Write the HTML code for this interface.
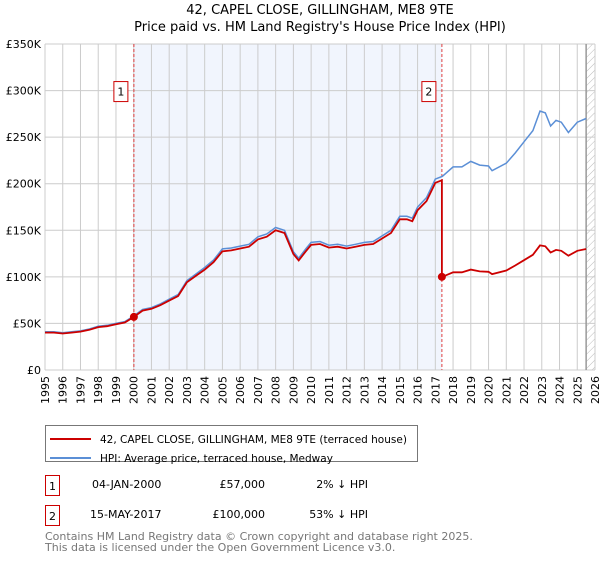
<!DOCTYPE html>
<html><head><meta charset="utf-8"><style>
body{margin:0;background:#fff;font-family:"DejaVu Sans","Liberation Sans",sans-serif;}
svg text{font-family:"DejaVu Sans","Liberation Sans",sans-serif;}
</style></head><body>
<svg id="c" width="600" height="560" xmlns="http://www.w3.org/2000/svg">
<text x="320" y="14" font-size="13" text-anchor="middle">42, CAPEL CLOSE, GILLINGHAM, ME8 9TE</text>
<text x="320" y="31" font-size="13" text-anchor="middle">Price paid vs. HM Land Registry's House Price Index (HPI)</text>
<g id="grid"></g><g id="marks"></g>
<g>
<rect x="45.5" y="425.5" width="372" height="36" fill="#fff" stroke="#777"/>
<line x1="50" y1="439" x2="91" y2="439" stroke="#cc0000" stroke-width="2"/>
<text x="100" y="443" font-size="10.5">42, CAPEL CLOSE, GILLINGHAM, ME8 9TE (terraced house)</text>
<line x1="50" y1="458" x2="91" y2="458" stroke="#5b8fd6" stroke-width="2"/>
<text x="100" y="462" font-size="10.5">HPI: Average price, terraced house, Medway</text>
</g>
<g font-size="11">
<rect x="45.5" y="475.5" width="14" height="20" fill="none" stroke="#cc0000"/><text x="52.5" y="490" text-anchor="middle">1</text>
<text x="92" y="488">04-JAN-2000</text><text x="265" y="488" text-anchor="end">£57,000</text><text x="368" y="488" text-anchor="end">2% ↓ HPI</text>
<rect x="45.5" y="505.5" width="14" height="20" fill="none" stroke="#cc0000"/><text x="52.5" y="520" text-anchor="middle">2</text>
<text x="90" y="518">15-MAY-2017</text><text x="265" y="518" text-anchor="end">£100,000</text><text x="368" y="518" text-anchor="end">53% ↓ HPI</text>
</g>
<text x="45" y="540" font-size="11" fill="#777">Contains HM Land Registry data © Crown copyright and database right 2025.</text>
<text x="45" y="551" font-size="11" fill="#777">This data is licensed under the Open Government Licence v3.0.</text>
</svg>
<script>
const hpiYears=[1995,1995.5,1996,1996.5,1997,1997.5,1998,1998.5,1999,1999.5,2000,2000.5,2001,2001.5,2002,2002.5,2003,2003.5,2004,2004.5,2005,2005.5,2006,2006.5,2007,2007.5,2008,2008.5,2009,2009.3,2009.7,2010,2010.5,2011,2011.5,2012,2012.5,2013,2013.5,2014,2014.5,2015,2015.4,2015.7,2016,2016.5,2017,2017.4,2018,2018.5,2019,2019.5,2020,2020.2,2021,2021.5,2022,2022.5,2022.9,2023.2,2023.5,2023.8,2024.1,2024.5,2025,2025.5];
const hpiValues=[41,41,40,41,42,44,47,48,50,52,58,65,67,71,76,81,96,103,110,118,130,131,133,135,143,146,153,150,127,120,130,137,138,134,135,133,135,137,138,144,150,165,165,163,175,185,205,208,218,218,224,220,219,214,222,233,245,257,278,276,262,268,266,255,266,270];
const saleYears=[2000.01,2017.37];
const salePrices=[57,100];
const saleLabels=["1","2"];
const yTicks=[0,50,100,150,200,250,300,350];
const xTicks=[1995,1996,1997,1998,1999,2000,2001,2002,2003,2004,2005,2006,2007,2008,2009,2010,2011,2012,2013,2014,2015,2016,2017,2018,2019,2020,2021,2022,2023,2024,2025,2026];
const L=45,R=595,T=44,B=370;
const X=y=>L+(y-1995)/31*(R-L);
const Y=v=>B-v/350*(B-T);
const NS="http://www.w3.org/2000/svg";
function mk(t,a,p){const e=document.createElementNS(NS,t);for(const k in a)e.setAttribute(k,a[k]);p.appendChild(e);return e;}
const g=document.getElementById('grid'),m=document.getElementById('marks');
const sh=mk('rect',{x:X(saleYears[0]),y:T,width:X(saleYears[1])-X(saleYears[0]),height:B-T,fill:'#eef3fc',opacity:0.8},g);


const def=mk('defs',{},g);const pt=mk('pattern',{id:'h',width:5,height:5,patternUnits:'userSpaceOnUse',patternTransform:'rotate(45)'},def);mk('line',{x1:0,y1:0,x2:0,y2:5,stroke:'#bbb'},pt);
const ht=mk('rect',{x:X(2025.5),y:T,width:R-X(2025.5),height:B-T,fill:'url(#h)'},g);


xTicks.forEach(t=>{mk('line',{x1:X(t),y1:T,x2:X(t),y2:B,stroke:'#ccc'},g);
const tx=mk('text',{x:0,y:0,'font-size':11,'text-anchor':'end',transform:`translate(${X(t)+4},${B+6}) rotate(-90)`},g);tx.textContent=t;

});
yTicks.forEach(t=>{mk('line',{x1:L,y1:Y(t),x2:R,y2:Y(t),stroke:'#ccc'},g);
const tx=mk('text',{x:L-4,y:Y(t)+4,'font-size':11,'text-anchor':'end'},g);tx.textContent=t?'£'+t+'K':'£0';

});
mk('line',{x1:X(2025.5),y1:T,x2:X(2025.5),y2:B,stroke:'#999','stroke-width':1.5},g);
function hpiAt(t){for(let i=0;i<hpiYears.length-1;i++){if(t<=hpiYears[i+1]){const f=(t-hpiYears[i])/(hpiYears[i+1]-hpiYears[i]);return hpiValues[i]+f*(hpiValues[i+1]-hpiValues[i]);}}return hpiValues[hpiValues.length-1];}
saleYears.forEach((s,i)=>{mk('line',{x1:X(s),y1:T,x2:X(s),y2:B,stroke:'#e04040','stroke-dasharray':'3,2'},m);
const bx=mk('rect',{x:X(s)-20,y:Y(300)-9,width:14,height:20,fill:'#fff',stroke:'#cc0000'},m);


const tx=mk('text',{x:X(s)-13,y:Y(300)+5,'font-size':11,'text-anchor':'middle'},m);tx.textContent=saleLabels[i];});
let hp='';hpiYears.forEach((t,i)=>hp+=(i?'L':'M')+X(t).toFixed(1)+','+Y(hpiValues[i]).toFixed(1));
const hl=mk('path',{d:hp,fill:'none',stroke:'#5b8fd6','stroke-width':1.5},m);


let rp='';const r0=salePrices[0]/hpiAt(saleYears[0]),r1=salePrices[1]/hpiAt(saleYears[1]);
const pts=[];hpiYears.forEach((t,i)=>{if(t<saleYears[1])pts.push([t,hpiValues[i]*r0]);});
pts.push([saleYears[1],hpiAt(saleYears[1])*r0]);pts.push([saleYears[1],salePrices[1]]);
hpiYears.forEach((t,i)=>{if(t>saleYears[1])pts.push([t,hpiValues[i]*r1]);});
pts.forEach((p,i)=>rp+=(i?'L':'M')+X(p[0]).toFixed(1)+','+Y(p[1]).toFixed(1));
const rl=mk('path',{d:rp,fill:'none',stroke:'#cc0000','stroke-width':1.8},m);


saleYears.forEach((s,i)=>{const c=mk('circle',{cx:X(s),cy:Y(salePrices[i]),r:4,fill:'#cc0000'},m);

});
</script>
</body></html>
